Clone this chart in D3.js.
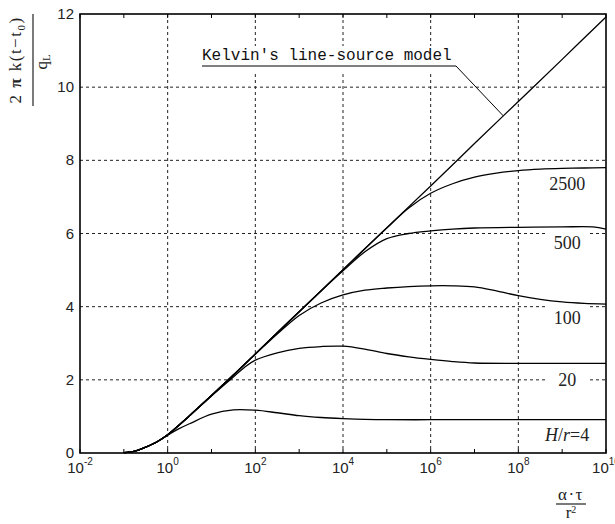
<!DOCTYPE html>
<html>
<head>
<meta charset="utf-8">
<script src="https://cdn.jsdelivr.net/npm/d3@7"></script>
<style>
  body { margin: 0; background: #fff; }
  svg { display: block; }
</style>
</head>
<body>
<script>
// chart data
var xTickExps = [-2, 0, 2, 4, 6, 8, 10];
var yTicks = [0, 2, 4, 6, 8, 10, 12];

var foKelvin = [0.1, 0.178, 0.316, 0.562, 1, 3.16, 10, 31.6, 100, 1e3, 1e4, 1e5, 1e6, 1e7, 1e8, 1e9, 1e10];
var kelvin = [0.01, 0.05, 0.16, 0.3, 0.5, 1.02, 1.57, 2.13, 2.71, 3.86, 5.01, 6.16, 7.3, 8.46, 9.61, 10.76, 11.92];

var fo4 = [0.1, 0.178, 0.316, 0.562, 1, 1.78, 3.16, 10, 31.6, 100, 316, 1e3, 3.16e3, 1e4, 3.16e4, 1e5, 1e6, 1e7, 1e8, 1e9, 1e10];
var h4 = [0.01, 0.05, 0.16, 0.3, 0.49, 0.66, 0.8, 1.06, 1.18, 1.17, 1.1, 1.02, 0.97, 0.94, 0.92, 0.91, 0.91, 0.91, 0.91, 0.91, 0.91];

var fo20 = [0.1, 0.178, 0.316, 0.562, 1, 3.16, 10, 31.6, 56.2, 100, 316, 1e3, 3.16e3, 1e4, 3.16e4, 1e5, 3.16e5, 1e6, 3.16e6, 1e7, 1e8, 1e9, 1e10];
var h20 = [0.01, 0.05, 0.16, 0.3, 0.5, 1.02, 1.56, 2.08, 2.34, 2.54, 2.74, 2.86, 2.91, 2.92, 2.84, 2.72, 2.63, 2.56, 2.5, 2.46, 2.45, 2.45, 2.45];

var fo100 = [0.1, 0.178, 0.316, 0.562, 1, 3.16, 10, 31.6, 100, 316, 1e3, 3.16e3, 1e4, 3.16e4, 1e5, 3.16e5, 1e6, 3.16e6, 1e7, 3.16e7, 1e8, 3.16e8, 1e9, 3.16e9, 1e10];
var h100 = [0.01, 0.05, 0.16, 0.3, 0.5, 1.02, 1.57, 2.13, 2.7, 3.25, 3.76, 4.1, 4.32, 4.45, 4.51, 4.55, 4.57, 4.57, 4.54, 4.43, 4.3, 4.2, 4.13, 4.09, 4.07];

var fo500 = [0.1, 0.178, 0.316, 0.562, 1, 3.16, 10, 31.6, 100, 1e3, 3.16e3, 1e4, 3.16e4, 1e5, 3.16e5, 1e6, 3.16e6, 1e7, 1e8, 1e9, 5e9, 1e10];
var h500 = [0.01, 0.05, 0.16, 0.3, 0.5, 1.02, 1.57, 2.13, 2.71, 3.86, 4.43, 4.98, 5.5, 5.86, 6.0, 6.07, 6.12, 6.15, 6.17, 6.18, 6.18, 6.12];

var fo2500 = [0.1, 0.178, 0.316, 0.562, 1, 3.16, 10, 31.6, 100, 1e3, 1e4, 1e5, 3.16e5, 1e6, 3.16e6, 1e7, 3.16e7, 1e8, 3.16e8, 1e9, 3.16e9, 1e10];
var h2500 = [0.01, 0.05, 0.16, 0.3, 0.5, 1.02, 1.57, 2.13, 2.71, 3.86, 5.01, 6.15, 6.7, 7.1, 7.36, 7.54, 7.65, 7.72, 7.76, 7.78, 7.79, 7.8];

var curveNames = ["2500", "500", "100", "20", "H/r=4"];

var svgWidth = 615;
var svgHeight = 524;
var margin = { top: 14, right: 9, bottom: 71, left: 80 };
var chartWidth = svgWidth - margin.left - margin.right;
var chartHeight = svgHeight - margin.top - margin.bottom;

var svg = d3.select("body").append("svg")
  .attr("width", svgWidth)
  .attr("height", svgHeight);

var chartGroup = svg.append("g")
  .attr("transform", `translate(${margin.left},${margin.top})`);

var xScale = d3.scaleLog().domain([1e-2, 1e10]).range([0, chartWidth]);
var yScale = d3.scaleLinear().domain([0, 12]).range([chartHeight, 0]);

// grid
var gridX = xTickExps.slice(1, -1).map(e => Math.pow(10, e));
var gridY = yTicks.slice(1, -1);
chartGroup.selectAll(".gx").data(gridX).enter().append("line")
  .attr("x1", d => xScale(d)).attr("x2", d => xScale(d))
  .attr("y1", 0).attr("y2", chartHeight)
  .attr("stroke", "#222").attr("stroke-width", 1).attr("stroke-dasharray", "3,3");
chartGroup.selectAll(".gy").data(gridY).enter().append("line")
  .attr("x1", 0).attr("x2", chartWidth)
  .attr("y1", d => yScale(d)).attr("y2", d => yScale(d))
  .attr("stroke", "#222").attr("stroke-width", 1).attr("stroke-dasharray", "3,3");

// label boxes (cut the grid like the original)
var labelPos = [
  { name: curveNames[0], x: 1.3e9, y: 7.35 },
  { name: curveNames[1], x: 1.3e9, y: 5.75 },
  { name: curveNames[2], x: 1.3e9, y: 3.7 },
  { name: curveNames[3], x: 1.3e9, y: 2.0 },
  { name: curveNames[4], x: 1.3e9, y: 0.5 }
];
chartGroup.selectAll(".lbox").data(labelPos.slice(0, 4)).enter().append("rect")
  .attr("x", d => xScale(d.x) - 22).attr("y", d => yScale(d.y) - 14)
  .attr("width", 44).attr("height", 28).attr("fill", "#fff");

// kelvin annotation box
chartGroup.append("rect")
  .attr("x", 197 - margin.left).attr("y", 46 - margin.top)
  .attr("width", 262).attr("height", 26).attr("fill", "#fff");

// curves
var line = d3.line()
  .x(d => xScale(d[0]))
  .y(d => yScale(d[1]))
  .curve(d3.curveCatmullRom.alpha(0.5));

var series = [
  [foKelvin, kelvin], [fo4, h4], [fo20, h20], [fo100, h100], [fo500, h500], [fo2500, h2500]
];
series.forEach(function(s) {
  chartGroup.append("path")
    .datum(d3.zip(s[0], s[1]))
    .attr("fill", "none")
    .attr("stroke", "#000")
    .attr("stroke-width", 1.3)
    .attr("d", line);
});

// curve labels
chartGroup.selectAll(".clabel").data(labelPos.slice(0, 4)).enter().append("text")
  .attr("x", d => xScale(d.x)).attr("y", d => yScale(d.y))
  .attr("dy", "0.35em")
  .attr("text-anchor", "middle")
  .attr("font-family", "Liberation Serif, Times New Roman, serif")
  .attr("font-size", 18)
  .attr("fill", "#222")
  .text(d => d.name);

var hr = chartGroup.append("text")
  .attr("x", xScale(labelPos[4].x)).attr("y", yScale(labelPos[4].y))
  .attr("dy", "0.35em")
  .attr("text-anchor", "middle")
  .attr("font-family", "Liberation Serif, Times New Roman, serif")
  .attr("font-size", 18)
  .attr("fill", "#222");
hr.append("tspan").attr("font-style", "italic").text("H");
hr.append("tspan").text("/");
hr.append("tspan").attr("font-style", "italic").text("r");
hr.append("tspan").text("=4");

// Kelvin annotation
svg.append("text")
  .attr("x", 202).attr("y", 60)
  .attr("font-family", "Liberation Mono, Courier New, monospace")
  .attr("font-size", 16)
  .attr("fill", "#111")
  .text("Kelvin's line-source model");
svg.append("line")
  .attr("x1", 202).attr("x2", 456).attr("y1", 66).attr("y2", 66)
  .attr("stroke", "#000").attr("stroke-width", 1.2);
svg.append("line")
  .attr("x1", 456).attr("y1", 66)
  .attr("x2", margin.left + xScale(4.5e7)).attr("y2", margin.top + yScale(9.22))
  .attr("stroke", "#000").attr("stroke-width", 1);

// frame
chartGroup.append("rect")
  .attr("x", 0).attr("y", 0).attr("width", chartWidth).attr("height", chartHeight)
  .attr("fill", "none").attr("stroke", "#000").attr("stroke-width", 1.6);

// small ticks every decade, top and bottom
var decades = d3.range(-2, 11).map(e => Math.pow(10, e));
chartGroup.selectAll(".tb").data(decades).enter().append("line")
  .attr("x1", d => xScale(d)).attr("x2", d => xScale(d))
  .attr("y1", chartHeight).attr("y2", chartHeight - 4)
  .attr("stroke", "#000");
chartGroup.selectAll(".tt").data(decades).enter().append("line")
  .attr("x1", d => xScale(d)).attr("x2", d => xScale(d))
  .attr("y1", 0).attr("y2", 4)
  .attr("stroke", "#000");

// y tick labels
chartGroup.selectAll(".yl").data(yTicks).enter().append("text")
  .attr("x", -6).attr("y", d => yScale(d))
  .attr("dy", "0.34em")
  .attr("text-anchor", "end")
  .attr("font-family", "Liberation Sans, Arial, sans-serif")
  .attr("font-size", 15)
  .attr("fill", "#222")
  .text(d => d);

// x tick labels 10^n
var xl = chartGroup.selectAll(".xl").data(xTickExps).enter().append("text")
  .attr("x", d => xScale(Math.pow(10, d)))
  .attr("y", chartHeight + 20)
  .attr("text-anchor", "middle")
  .attr("font-family", "Liberation Sans, Arial, sans-serif")
  .attr("font-size", 15)
  .attr("fill", "#222");
xl.append("tspan").text("10");
xl.append("tspan").attr("dy", -8).attr("font-size", 10).text(d => d);

// y axis title (fraction, rotated)
var yt = svg.append("g").attr("transform", "translate(21,60) rotate(-90)");
var num = yt.append("text")
  .attr("text-anchor", "middle")
  .attr("font-family", "Liberation Serif, Times New Roman, serif")
  .attr("font-size", 17)
  .attr("letter-spacing", 1.5)
  .attr("fill", "#222");
num.append("tspan").text("2 ");
num.append("tspan").attr("font-weight", "bold").text("π");
num.append("tspan").text(" k(t−t");
num.append("tspan").attr("font-size", 11).attr("dy", 4).text("0");
num.append("tspan").attr("dy", -4).text(")");
yt.append("line")
  .attr("x1", -46).attr("x2", 46).attr("y1", 12).attr("y2", 12)
  .attr("stroke", "#222").attr("stroke-width", 1.2);
var den = yt.append("text")
  .attr("x", -2).attr("y", 26)
  .attr("text-anchor", "middle")
  .attr("font-family", "Liberation Serif, Times New Roman, serif")
  .attr("font-size", 17)
  .attr("fill", "#222");
den.append("tspan").text("q");
den.append("tspan").attr("font-size", 11).attr("dy", 3).text("L");

// x axis title (fraction)
var xt = svg.append("g").attr("transform", "translate(571,0)");
xt.append("text")
  .attr("x", 0).attr("y", 500)
  .attr("text-anchor", "middle")
  .attr("font-family", "Liberation Serif, Times New Roman, serif")
  .attr("font-size", 17)
  .attr("letter-spacing", 1.5)
  .attr("fill", "#222")
  .text("α·τ");
xt.append("line")
  .attr("x1", -15).attr("x2", 15).attr("y1", 504).attr("y2", 504)
  .attr("stroke", "#222").attr("stroke-width", 1.2);
var rr = xt.append("text")
  .attr("x", 0).attr("y", 518)
  .attr("text-anchor", "middle")
  .attr("font-family", "Liberation Serif, Times New Roman, serif")
  .attr("font-size", 17)
  .attr("fill", "#222");
rr.append("tspan").text("r");
rr.append("tspan").attr("font-size", 10).attr("dy", -5).text("2");
</script>
</body>
</html>
